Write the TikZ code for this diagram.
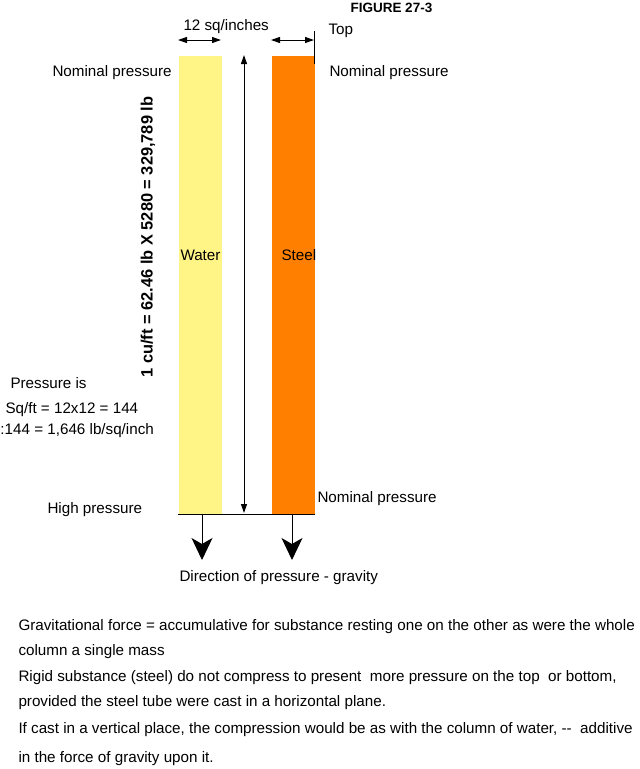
\documentclass[tikz,border=0pt]{standalone}
\usepackage{fontspec}
\setmainfont{Liberation Sans}
\usetikzlibrary{arrows.meta}
\definecolor{watercol}{RGB}{255,245,135}
\definecolor{steelcol}{RGB}{255,128,0}
\tikzset{
  lbl/.style={anchor=west, inner sep=0pt, font=\fontsize{15.2}{18}\selectfont},
  column/.style={anchor=north west, inner sep=0pt, minimum width=43pt, minimum height=458pt},
  dimline/.style={{Triangle[length=9pt,width=6pt]}-{Triangle[length=9pt,width=6pt]}},
  fall/.style={-{Stealth[length=22pt,width=21pt,inset=6pt]}}
}
\begin{document}
\begin{tikzpicture}[x=1pt,y=-1pt]
\useasboundingbox (0,0) rectangle (640,769);
\begin{scope}[line width=1pt]
% columns
\path (178,55) node[column, fill=watercol] (water) {};
\path (271,55) node[column, fill=steelcol] (steel) {};
\path (180,255) node[lbl] (wlabel) {Water};
\path (281,255) node[lbl] (slabel) {Steel};
% top dimensions
\path (350,8) node[lbl, font=\fontsize{13.5}{16}\selectfont\bfseries] (fig) {FIGURE 27-3};
\path (183,27) node[lbl] (width) {12 sq/inches};
\path (328,31) node[lbl] (top) {Top};
\coordinate (wl) at (178,40); \coordinate (wr) at (221,40);
\coordinate (sl) at (271,40); \coordinate (sr) at (314,40);
\draw[dimline] (wl) -- (wr);
\draw[dimline] (sl) -- (sr);
\coordinate (tick1) at (314,31); \coordinate (tick2) at (314,64);
\draw (tick1) -- (tick2);
% height arrow
\coordinate (ctop) at (244,55); \coordinate (cbot) at (244,513);
\draw[dimline] (ctop) -- (cbot);
\path (148,237) node[inner sep=0pt, rotate=90, font=\fontsize{16.4}{19}\selectfont\bfseries] (height) {1 cu/ft = 62.46 lb X 5280 = 329,789 lb};
% side labels
\path (52,73) node[lbl] (nomlt) {Nominal pressure};
\path (329,73) node[lbl] (nomrt) {Nominal pressure};
\path (317,499) node[lbl] (nomrb) {Nominal pressure};
\path (47,510) node[lbl] (high) {High pressure};
\path (10,383) node[lbl] (pres1) {Pressure is};
\path (5,410) node[lbl] (pres2) {Sq/ft = 12x12 = 144};
\path (0,431) node[lbl] (pres3) {:144 = 1,646 lb/sq/inch};
% base and gravity
\draw (water.south west) -- (steel.south east);
\coordinate (wd1) at (202,514); \coordinate (wd2) at (202,560);
\coordinate (sd1) at (292,514); \coordinate (sd2) at (292,560);
\draw[fall] (wd1) -- (wd2);
\draw[fall] (sd1) -- (sd2);
\path (179,578) node[lbl] (dir) {Direction of pressure - gravity};
% notes
\path (18,627) node[lbl] (note1) {Gravitational force = accumulative for substance resting one on the other as were the whole};
\path (18,652) node[lbl] (note2) {column a single mass};
\path (18,678) node[lbl] (note3) {Rigid substance (steel) do not compress to present\ \ more pressure on the top\ \ or bottom,};
\path (18,703) node[lbl] (note4) {provided the steel tube were cast in a horizontal plane.};
\path (18,730) node[lbl] (note5) {If cast in a vertical place, the compression would be as with the column of water, -{}-\ \ additive};
\path (18,759) node[lbl] (note6) {in the force of gravity upon it.};
\end{scope}
\end{tikzpicture}
\end{document}
